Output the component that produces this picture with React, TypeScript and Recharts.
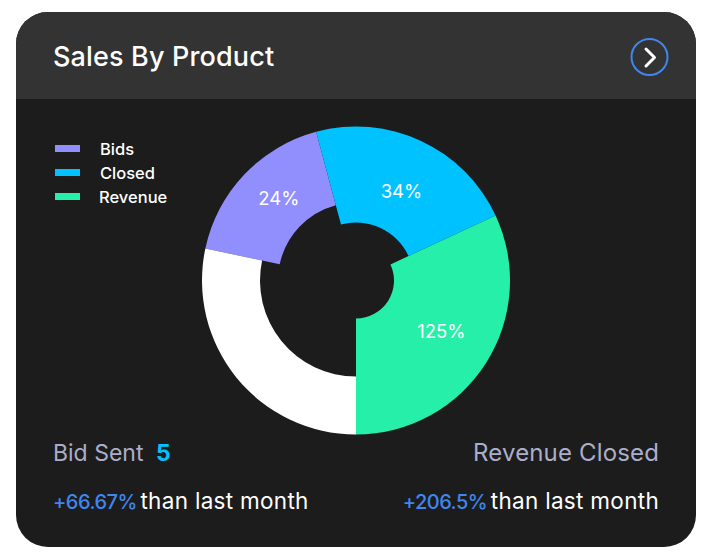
import { PieChart, Pie, Cell, Legend, Sector } from "recharts";

const categories = ["Bids", "Closed", "Revenue", "Other"];
// slice sizes, in degrees
const sliceValues = [63, 80, 115, 102];
const sliceLabels = ["24%", "34%", "125%", ""];
const innerRadii = [78, 58, 38, 96];
const labelRadii = [113, 100, 99, 0];
const labelAngles = [133, 63, -30.5, 0];
const colors = ["#918efe", "#00c2ff", "#25efa9", "#ffffff"];

const data = categories.map((name, i) => ({ name, value: sliceValues[i] }));

const FONT = "Inter, sans-serif";
const RAD = Math.PI / 180;

const renderSlice = (props: any) => (
  <Sector {...props} innerRadius={innerRadii[props.index]} stroke="none" />
);

const renderLabel = ({ cx, cy, index }: any) => (
  <text
    x={cx + labelRadii[index] * Math.cos(labelAngles[index] * RAD)}
    y={cy - labelRadii[index] * Math.sin(labelAngles[index] * RAD)}
    fill="#fff"
    fontSize={18.5}
    fontFamily={FONT}
    textAnchor="middle"
    dominantBaseline="central"
  >
    {sliceLabels[index]}
  </text>
);

const renderLegend = () => (
  <div>
    {categories.slice(0, 3).map((name, i) => (
      <div
        key={name}
        style={{ position: "relative", height: 24, fontSize: 16.5, fontWeight: 500, fontFamily: FONT, color: "#fff" }}
      >
        <span
          style={{ position: "absolute", left: 0, top: 8, width: 25, height: 7, background: colors[i] }}
        />
        <span style={{ position: "absolute", left: i === 2 ? 44 : 45, top: 2, lineHeight: "20px" }}>{name}</span>
      </div>
    ))}
  </div>
);

const text = (left: number | undefined, right: number | undefined, top: number): React.CSSProperties => ({
  position: "absolute",
  left,
  right,
  top,
  whiteSpace: "nowrap",
  fontFamily: FONT,
  lineHeight: "30px",
});

const changeStyle: React.CSSProperties = {
  color: "#3f86ee",
  fontSize: 20,
  fontWeight: 500,
  letterSpacing: -0.5,
  marginRight: -3,
};

export default function App() {
  return (
    <div style={{ position: "absolute", left: 0, top: 0, width: 712, height: 560, background: "#fff", overflow: "hidden" }}>
      <div
        style={{
          position: "absolute",
          left: 16,
          top: 12,
          width: 680,
          height: 535,
          borderRadius: 32,
          background: "#1c1c1c",
          overflow: "hidden",
        }}
      >
        <div style={{ height: 87, background: "#333333" }} />
      </div>

      <div style={{ ...text(53, undefined, 42), fontSize: 27, fontWeight: 500, letterSpacing: 0.15, color: "#fff" }}>
        Sales By Product
      </div>

      <svg style={{ position: "absolute", left: 629, top: 37 }} width={41} height={41}>
        <circle cx={20.5} cy={20} r={18} fill="none" stroke="#3f86ee" strokeWidth={2} />
        <path d="M17 12 L25.5 20.5 L17 29" fill="none" stroke="#fff" strokeWidth={3} strokeLinecap="round" strokeLinejoin="round" />
      </svg>

      <div style={{ position: "absolute", left: 0, top: 0 }}>
        <PieChart width={712} height={560} margin={{ top: 0, right: 0, bottom: 0, left: 0 }}>
          <Legend
            content={renderLegend}
            layout="vertical"
            verticalAlign="middle"
            align="center"
            wrapperStyle={{ left: 55, top: 137, width: 130 }}
          />
          <Pie
            data={data}
            dataKey="value"
            nameKey="name"
            cx={356}
            cy={280.5}
            outerRadius={154}
            innerRadius={38}
            startAngle={168}
            endAngle={-192}
            stroke="none"
            shape={renderSlice}
            label={renderLabel}
            labelLine={false}
            isAnimationActive={false}
          >
            {data.map((_, i) => (
              <Cell key={`cell-${i}`} fill={colors[i]} />
            ))}
          </Pie>
        </PieChart>
      </div>

      <div style={{ ...text(53, undefined, 438), fontSize: 23, color: "#abaec9" }}>
        Bid Sent <span style={{ marginLeft: 6, color: "#00c2ff", fontWeight: 700 }}>5</span>
      </div>
      <div style={{ ...text(undefined, 53, 438), fontSize: 24, letterSpacing: 0.15, color: "#abaec9" }}>Revenue Closed</div>
      <div style={{ ...text(53, undefined, 486), fontSize: 22.5, letterSpacing: 0.3, color: "#fff" }}>
        <span style={changeStyle}>+66.67%</span> than last month
      </div>
      <div style={{ ...text(undefined, 53, 486), fontSize: 22.5, letterSpacing: 0.3, color: "#fff" }}>
        <span style={changeStyle}>+206.5%</span> than last month
      </div>
    </div>
  );
}
